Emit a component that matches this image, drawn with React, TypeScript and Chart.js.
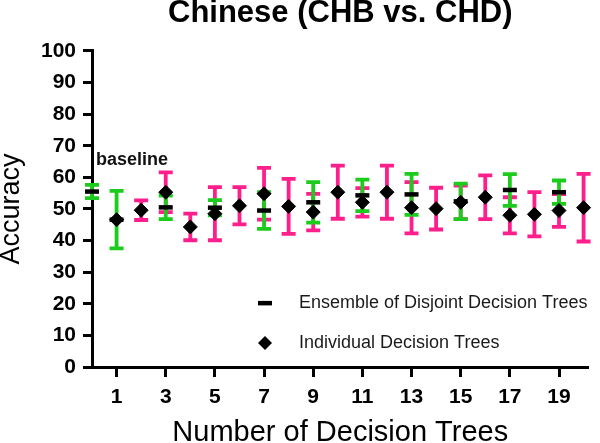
import { useEffect, useRef } from "react";
import { Chart, registerables } from "chart.js";

Chart.register(...registerables);

const titleText = "Chinese (CHB vs. CHD)";
const xAxisTitle = "Number of Decision Trees";
const yAxisTitle = "Accuracy";
const baselineLabel = "baseline";
const ensembleLabel = "Ensemble of Disjoint Decision Trees";
const individualLabel = "Individual Decision Trees";

const xTickValues = [1, 3, 5, 7, 9, 11, 13, 15, 17, 19];

// Individual decision trees (diamond, pink error bars)
const individualX = [1, 2, 3, 4, 5, 6, 7, 8, 9, 10, 11, 12, 13, 14, 15, 16, 17, 18, 19, 20];
const individualMean = [46.6, 49.6, 55.3, 44.3, 48.5, 51.0, 54.8, 50.8, 49.0, 55.3, 52.1, 55.3, 50.4, 50.1, 52.1, 53.7, 48.0, 48.3, 49.5, 50.4];
const individualErr: (number | null)[] = [null, 3.1, 6.3, 4.2, 8.4, 5.9, 8.2, 8.7, 5.8, 8.4, 4.5, 8.4, 8.1, 6.6, 5.3, 6.9, 5.7, 7.0, 5.2, 10.7];

// Ensemble of disjoint decision trees (dash, green error bars); x = 0 is the baseline
const ensembleX = [0, 1, 3, 5, 7, 9, 11, 13, 15, 17, 19];
const ensembleMean = [55.5, 46.6, 50.5, 50.4, 49.5, 52.1, 54.3, 54.6, 52.4, 56.0, 55.3];
const ensembleErr = [2.1, 9.1, 3.7, 2.4, 5.8, 6.4, 5.0, 6.5, 5.6, 5.0, 3.7];

const PINK = "#ff1f8c";
const GREEN = "#1ccc1c";
const FONT = "Arial, 'Liberation Sans', sans-serif";

const errorBarPlugin = {
  id: "errorBars",
  beforeDatasetsDraw(chart: any) {
    const { ctx, scales } = chart;
    const xs = scales.x;
    const ys = scales.y;
    const drawBar = (xv: number, mean: number, err: number, color: string) => {
      const px = xs.getPixelForValue(xv);
      const top = ys.getPixelForValue(mean + err);
      const bot = ys.getPixelForValue(mean - err);
      ctx.save();
      ctx.strokeStyle = color;
      ctx.lineWidth = 3.8;
      ctx.lineCap = "butt";
      ctx.beginPath();
      ctx.moveTo(px, top);
      ctx.lineTo(px, bot);
      ctx.moveTo(px - 7, top);
      ctx.lineTo(px + 7, top);
      ctx.moveTo(px - 7, bot);
      ctx.lineTo(px + 7, bot);
      ctx.stroke();
      ctx.restore();
    };
    individualX.forEach((xv, i) => {
      const e = individualErr[i];
      if (e != null) drawBar(xv, individualMean[i], e, PINK);
    });
    ensembleX.forEach((xv, i) => drawBar(xv, ensembleMean[i], ensembleErr[i], GREEN));
  },
  afterDatasetsDraw(chart: any) {
    const { ctx, scales, chartArea } = chart;
    const xs = scales.x;
    const ys = scales.y;
    ctx.save();
    // baseline label
    ctx.fillStyle = "#111";
    ctx.font = `bold 18px ${FONT}`;
    ctx.textAlign = "left";
    ctx.textBaseline = "middle";
    ctx.fillText(baselineLabel, xs.getPixelForValue(0) + 4, ys.getPixelForValue(65.5));

    // legend
    const lx = chartArea.left + 173;
    const ly1 = ys.getPixelForValue(20.2);
    const ly2 = ys.getPixelForValue(7.6);
    ctx.strokeStyle = "#000";
    ctx.lineWidth = 4.5;
    ctx.beginPath();
    ctx.moveTo(lx - 7, ly1);
    ctx.lineTo(lx + 7, ly1);
    ctx.stroke();
    ctx.fillStyle = "#000";
    ctx.beginPath();
    ctx.moveTo(lx - 7, ly2);
    ctx.lineTo(lx, ly2 - 7);
    ctx.lineTo(lx + 7, ly2);
    ctx.lineTo(lx, ly2 + 7);
    ctx.closePath();
    ctx.fill();
    ctx.font = `18px ${FONT}`;
    ctx.fillStyle = "#1a1a1a";
    ctx.fillText(ensembleLabel, lx + 34, ly1);
    ctx.fillText(individualLabel, lx + 34, ly2);
    ctx.restore();
  },
};

export default function App() {
  const canvasRef = useRef<HTMLCanvasElement | null>(null);

  useEffect(() => {
    document.body.style.margin = "0";
    const canvas = canvasRef.current;
    if (!canvas) return;
    const chart = new Chart(canvas, {
      type: "scatter",
      data: {
        datasets: [
          {
            label: ensembleLabel,
            data: ensembleX.map((x, i) => ({ x, y: ensembleMean[i] })),
            pointStyle: "line",
            pointRadius: 7,
            pointHoverRadius: 7,
            pointBorderWidth: 4.5,
            borderColor: "#000",
            backgroundColor: "#000",
            showLine: false,
            clip: false as any,
          },
          {
            label: individualLabel,
            data: individualX.map((x, i) => ({ x, y: individualMean[i] })),
            pointStyle: "rectRot",
            pointRadius: 7,
            pointHoverRadius: 7,
            pointBorderWidth: 1,
            borderColor: "#000",
            backgroundColor: "#000",
            showLine: false,
            clip: false as any,
          },
        ],
      },
      options: {
        responsive: false,
        animation: false,
        events: [],
        devicePixelRatio: 1,
        layout: { padding: { left: 0, right: 5, top: 0, bottom: 0 } },
        plugins: {
          legend: { display: false },
          tooltip: { enabled: false },
          title: {
            display: true,
            text: titleText,
            fullSize: false,
            align: "center",
            color: "#000",
            font: { family: FONT, size: 31, weight: "bold", lineHeight: 0.9 },
            padding: { top: 0, bottom: 23 },
          },
        },
        scales: {
          x: {
            type: "linear",
            min: 0,
            max: 20.2,
            afterBuildTicks: (scale: any) => {
              scale.ticks = xTickValues.map((v) => ({ value: v }));
            },
            afterFit: (scale: any) => {
              scale.height = 76;
            },
            border: { display: true, color: "#000", width: 3 },
            grid: { display: true, drawOnChartArea: false, drawTicks: true, tickLength: 10, tickWidth: 3, tickColor: "#000" },
            ticks: {
              color: "#000",
              padding: 8,
              autoSkip: false,
              maxRotation: 0,
              font: { family: FONT, size: 21, weight: "bold" },
              callback: (v: any) => String(v),
            },
            title: {
              display: true,
              text: xAxisTitle,
              color: "#000",
              font: { family: FONT, size: 29, lineHeight: 0.72 },
              padding: { top: 0, bottom: 0 },
            },
          },
          y: {
            type: "linear",
            min: 0,
            max: 100,
            afterFit: (scale: any) => {
              scale.width = 92;
            },
            border: { display: true, color: "#000", width: 3 },
            grid: { display: true, drawOnChartArea: false, drawTicks: true, tickLength: 9, tickWidth: 3, tickColor: "#000" },
            ticks: {
              stepSize: 10,
              color: "#000",
              padding: 7,
              font: { family: FONT, size: 21, weight: "bold" },
            },
            title: {
              display: true,
              text: yAxisTitle,
              color: "#000",
              font: { family: FONT, size: 27, lineHeight: 0.85 },
              padding: { top: 0, bottom: 0 },
            },
          },
        },
      },
      plugins: [errorBarPlugin],
    });
    return () => chart.destroy();
  }, []);

  return (
    <div style={{ position: "absolute", left: 0, top: 0, width: 600, height: 443 }}>
      <canvas ref={canvasRef} width={600} height={443} style={{ width: 600, height: 443 }} />
    </div>
  );
}
